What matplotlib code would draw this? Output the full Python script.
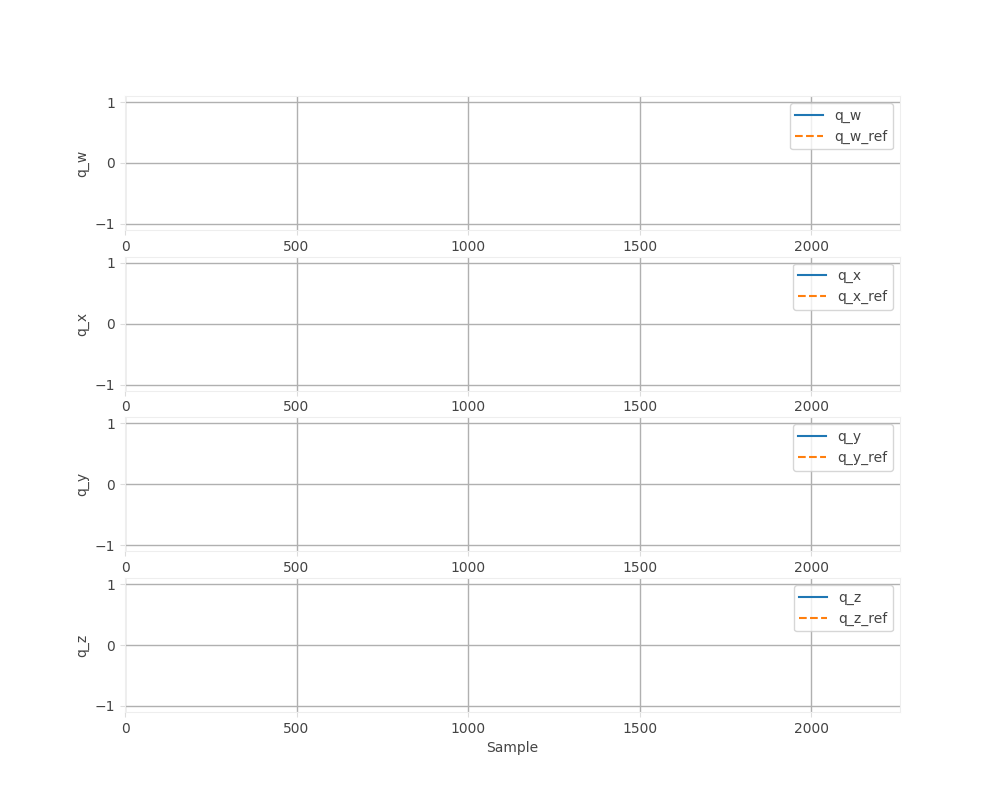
import matplotlib
matplotlib.use("Agg")
import matplotlib.pyplot as plt

components = ["q_w", "q_x", "q_y", "q_z"]
series = {c: [] for c in components}
series_ref = {c: [] for c in components}
x_max = 2259
y_lim = 1.1
x_ticks = [0, 500, 1000, 1500, 2000]
y_ticks = [-1, 0, 1]

plt.rcParams['font.family'] = ['DejaVu Sans']
fig, axes = plt.subplots(4, 1, figsize=(10, 8), dpi=100)
for ax, c in zip(axes, components):
    ax.plot(range(len(series[c])), series[c], color="#1f77b4", linestyle="-", label=c)
    ax.plot(range(len(series_ref[c])), series_ref[c], color="#ff7f0e", linestyle="--", label=c + "_ref")
    ax.set_xlim(0, x_max)
    ax.set_ylim(-y_lim, y_lim)
    ax.set_xticks(x_ticks)
    ax.set_yticks(y_ticks)
    ax.set_ylabel(c, color="#444444")
    ax.grid(True, color="#b0b0b0", linewidth=1)
    for s in ax.spines.values():
        s.set_color("#eeeeee")
    ax.tick_params(colors="#dddddd", labelcolor="#444444", labelsize=10)
    leg = ax.legend(loc="upper right")
    for t in leg.get_texts():
        t.set_color("#444444")
axes[-1].set_xlabel("Sample", color="#444444")
fig.savefig("out.png")
